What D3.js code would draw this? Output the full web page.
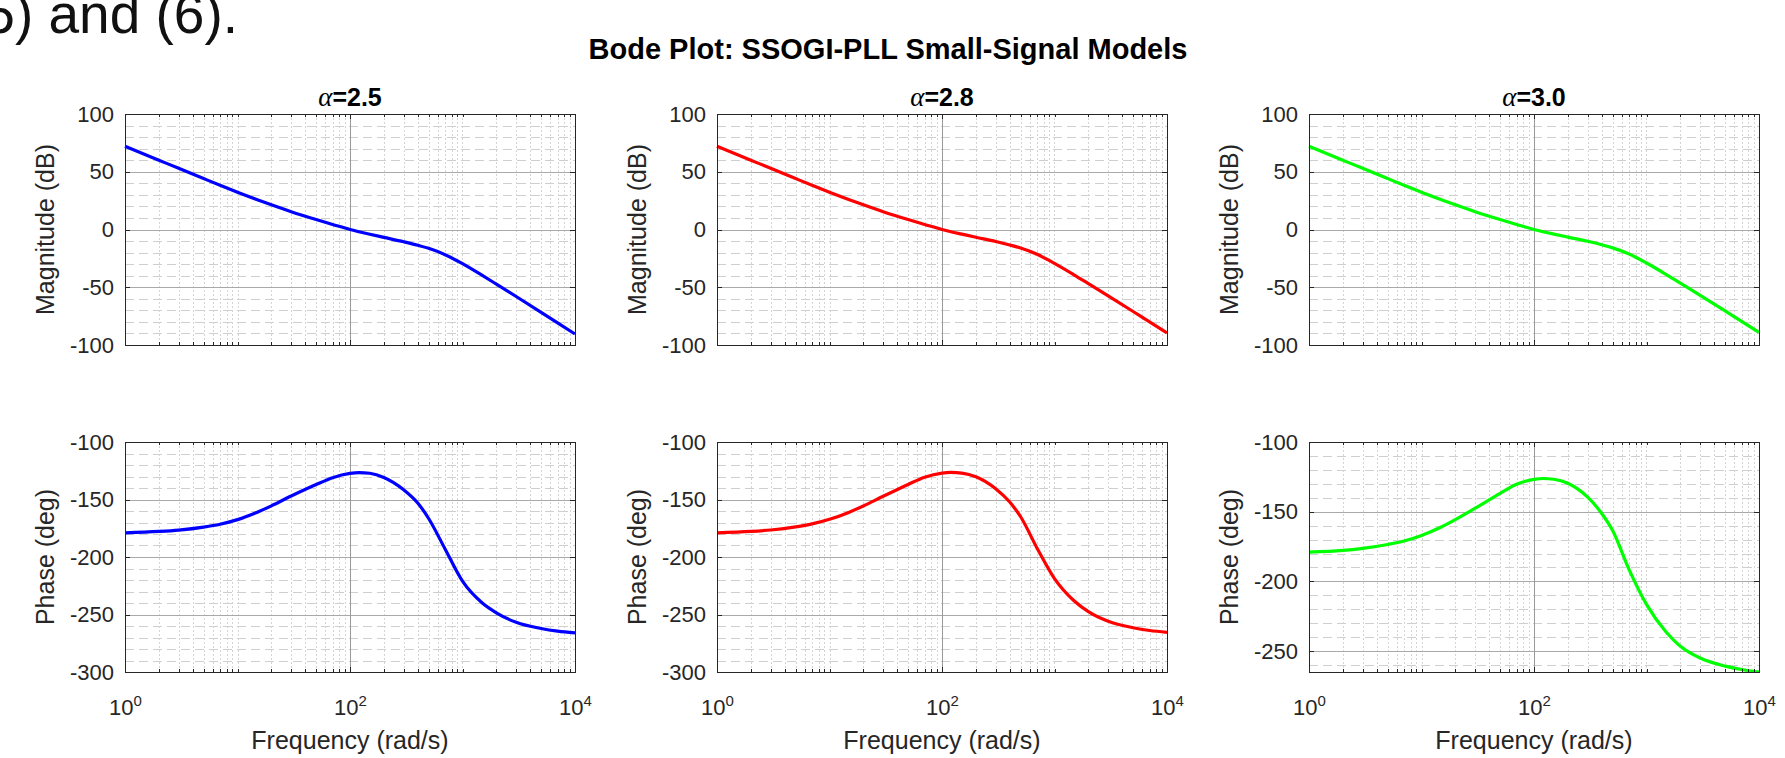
<!DOCTYPE html>
<html>
<head>
    <meta charset="utf-8">
    <script src="https://cdn.jsdelivr.net/npm/d3@7/dist/d3.min.js"></script>
    <style type="text/css">
        body { margin: 0; background: white; }
        svg { display: block; font-family: "Liberation Sans", Arial, Helvetica, sans-serif; }
        .axis path { display: none; }
        .axis line { stroke: #262626; shape-rendering: crispEdges; }
        .axis text { font-size: 22px; fill: #262626; font-family: "Liberation Sans", Arial, sans-serif; }
        .grid-major { stroke: #a9a9a9; stroke-width: 1; shape-rendering: crispEdges; }
        .grid-minor-h { stroke: #cfcfcf; stroke-width: 1; stroke-dasharray: 9,5; shape-rendering: crispEdges; }
        .grid-minor-v { stroke: #d4d4d4; stroke-width: 1; stroke-dasharray: 2,2; shape-rendering: crispEdges; }
        .label { font-size: 25px; fill: #262626; text-anchor: middle; }
    </style>
</head>
<body>
<div id="chart"></div>
<script type="text/javascript">
    var freq = [1, 2, 3, 5, 7, 10, 15, 20, 30, 50, 70, 100, 120, 150, 200, 300, 400, 500, 700, 1000, 1500, 2000, 3000, 5000, 7000, 10000];

    var alphas = ["2.5", "2.8", "3.0"];
    var colors = ["#0000ff", "#ff0000", "#00ff00"];

    // magnitude (dB)
    var mag25 = [72, 60, 53, 44.1, 38.3, 32.3, 25.8, 21.4, 15.4, 8.6, 4.4, 0, -1.9, -4.1, -6.8, -10.6, -13.6, -16.3, -21.8, -29.6, -39.8, -47.3, -58, -71.7, -80.8, -90.5];
    var mag28 = [72, 60, 53, 44.1, 38.3, 32.3, 25.8, 21.4, 15.4, 8.6, 4.4, 0, -1.9, -4.0, -6.7, -10.4, -13.4, -16.1, -21.5, -29.3, -39.4, -46.9, -57.5, -71, -80, -89.5];
    var mag30 = [72, 60, 53, 44.1, 38.3, 32.3, 25.8, 21.4, 15.4, 8.6, 4.4, 0, -1.9, -4.0, -6.6, -10.2, -13.2, -15.9, -21.2, -29, -39, -46.5, -57, -70.5, -79.5, -89];

    // phase (deg)
    var phase25 = [-179, -177.8, -176.6, -174, -171.5, -167.5, -161, -155.5, -147, -137, -131, -127.3, -126.6, -127.2, -130.8, -141.5, -153, -166.5, -193, -221, -240, -248.5, -256.8, -262.2, -264.5, -266];
    var phase28 = [-179, -177.8, -176.5, -173.8, -171.2, -167.2, -161, -155.6, -147.2, -136.9, -130.6, -127, -126.4, -127, -130.2, -140.6, -152.2, -165, -192.3, -218.8, -238.3, -247.5, -255.9, -261.5, -263.9, -265.5];
    var phase30 = [-179, -177.8, -176.3, -173.5, -171, -167, -161, -155.7, -147.5, -136.8, -130.3, -126.8, -126.2, -126.7, -129.6, -139.6, -151.3, -163.5, -191.5, -216.5, -236.5, -246.5, -255, -260.8, -263.2, -265];

    var magTicks = [-100, -50, 0, 50, 100];
    var phaseTicks = [[-300, -250, -200, -150, -100], [-300, -250, -200, -150, -100], [-250, -200, -150, -100]];
    var magLim = [-100, 100];
    var phaseLims = [[-300, -100], [-300, -100], [-265, -100]];
    var freqTicks = [1, 100, 10000];

    var mags = [mag25, mag28, mag30];
    var phases = [phase25, phase28, phase30];

    var W = 1785, H = 758;
    var colX = [125, 717, 1309];
    var pw = 450;
    var rowY = [114, 442];
    var ph = [231, 230];

    var svg = d3.select("#chart").append("svg")
        .attr("width", W)
        .attr("height", H);

    // leftover text from the page the figure was cut out of
    svg.append("text")
        .attr("x", -34)
        .attr("y", 33)
        .style("font-size", "55px")
        .style("fill", "#111")
        .text("(5) and (6).");

    svg.append("text")
        .attr("x", 888)
        .attr("y", 59)
        .attr("text-anchor", "middle")
        .style("font-size", "29px")
        .style("font-weight", "bold")
        .style("fill", "#000")
        .text("Bode Plot: SSOGI-PLL Small-Signal Models");

    var minorFreq = [];
    [1, 10, 100, 1000].forEach(function (d) {
        for (var k = 1; k <= 9; k++) {
            var v = k * d;
            if (freqTicks.indexOf(v) < 0) minorFreq.push(v);
        }
    });

    function drawPanel(id, left, top, h, yDomain, yTicks, ys, color, opts) {
        var x = d3.scaleLog().domain([1, 10000]).range([0, pw]);
        var y = d3.scaleLinear().domain(yDomain).range([h, 0]);

        var g = svg.append("g")
            .attr("transform", "translate(" + left + "," + top + ")");

        // grid
        var minorY = d3.range(Math.ceil(yDomain[0] / 10) * 10, yDomain[1] + 0.1, 10)
            .filter(function (v) { return v % 50 !== 0; });
        g.selectAll(".gmh").data(minorY).enter().append("line")
            .attr("class", "grid-minor-h")
            .attr("x1", 0).attr("x2", pw)
            .attr("y1", function (d) { return Math.round(y(d)) + 0.5; })
            .attr("y2", function (d) { return Math.round(y(d)) + 0.5; });
        g.selectAll(".gmv").data(minorFreq).enter().append("line")
            .attr("class", "grid-minor-v")
            .attr("y1", 0).attr("y2", h)
            .attr("x1", function (d) { return Math.round(x(d)) + 0.5; })
            .attr("x2", function (d) { return Math.round(x(d)) + 0.5; });
        g.selectAll(".gMh").data(yTicks.filter(function (v) { return v > yDomain[0] && v < yDomain[1]; })).enter().append("line")
            .attr("class", "grid-major")
            .attr("x1", 0).attr("x2", pw)
            .attr("y1", function (d) { return Math.round(y(d)) + 0.5; })
            .attr("y2", function (d) { return Math.round(y(d)) + 0.5; });
        g.append("line")
            .attr("class", "grid-major")
            .style("stroke", "#999")
            .attr("y1", 0).attr("y2", h)
            .attr("x1", Math.round(x(100)) + 0.5)
            .attr("x2", Math.round(x(100)) + 0.5);

        // curve
        g.append("clipPath").attr("id", id)
            .append("rect").attr("x", -1).attr("y", 0).attr("width", pw + 2).attr("height", h);
        var line = d3.line()
            .x(function (d, i) { return x(freq[i]); })
            .y(function (d) { return y(d); })
            .curve(d3.curveMonotoneX);
        g.append("path")
            .datum(ys)
            .attr("clip-path", "url(#" + id + ")")
            .attr("fill", "none")
            .attr("stroke", color)
            .attr("stroke-width", 3.2)
            .attr("stroke-linejoin", "round")
            .attr("d", line);

        // ticks
        g.append("g").attr("class", "axis")
            .call(d3.axisLeft(y).tickValues(yTicks).tickSizeInner(-5).tickSizeOuter(0).tickPadding(11)
                .tickFormat(function (d) { return String(d); }));
        g.append("g").attr("class", "axis")
            .attr("transform", "translate(" + pw + ",0)")
            .call(d3.axisRight(y).tickValues(yTicks).tickSizeInner(-5).tickSizeOuter(0).tickFormat(""));
        g.append("g").attr("class", "axis")
            .call(d3.axisTop(x).tickValues(freqTicks).tickSizeInner(-5).tickSizeOuter(0).tickFormat(""));
        g.append("g").attr("class", "axis")
            .call(d3.axisTop(x).tickValues(minorFreq).tickSizeInner(-3).tickSizeOuter(0).tickFormat(""));
        g.append("g").attr("class", "axis")
            .attr("transform", "translate(0," + h + ")")
            .call(d3.axisBottom(x).tickValues(minorFreq).tickSizeInner(-3).tickSizeOuter(0).tickFormat(""));
        var xb = g.append("g").attr("class", "axis")
            .attr("transform", "translate(0," + h + ")")
            .call(d3.axisBottom(x).tickValues(freqTicks).tickSizeInner(-5).tickSizeOuter(0).tickPadding(27)
                .tickFormat(function (d) { return opts.xLabels ? String(Math.round(Math.log10(d))) : ""; }));

        if (opts.xLabels) {
            xb.selectAll(".tick text").each(function () {
                var t = d3.select(this);
                var e = t.text();
                t.text(null);
                t.append("tspan").text("10");
                t.append("tspan").attr("dy", "-0.55em").style("font-size", "15px").text(e);
            });
        }

        // box
        g.append("rect")
            .attr("x", 0.5).attr("y", 0.5)
            .attr("width", pw).attr("height", h)
            .attr("fill", "none")
            .attr("stroke", "#262626")
            .attr("stroke-width", 1)
            .attr("shape-rendering", "crispEdges");

        // y label
        g.append("text")
            .attr("class", "label")
            .attr("transform", "rotate(-90)")
            .attr("x", -h / 2)
            .attr("y", -80)
            .attr("dy", "0.35em")
            .text(opts.yLabel);

        if (opts.title) {
            var tt = g.append("text")
                .attr("x", pw / 2)
                .attr("y", -8)
                .attr("text-anchor", "middle")
                .style("font-size", "25px")
                .style("fill", "#000");
            tt.append("tspan")
                .style("font-family", "'Liberation Serif', 'Times New Roman', serif")
                .style("font-style", "italic")
                .style("font-size", "27px")
                .text("\u03b1");
            tt.append("tspan")
                .style("font-weight", "bold")
                .text("=" + opts.title);
        }

        if (opts.xLabels) {
            g.append("text")
                .attr("class", "label")
                .attr("x", pw / 2)
                .attr("y", h + 77)
                .text("Frequency (rad/s)");
        }
    }

    for (var i = 0; i < 3; i++) {
        drawPanel("clipM" + i, colX[i], rowY[0], ph[0], magLim, magTicks, mags[i], colors[i],
            { yLabel: "Magnitude (dB)", title: alphas[i], xLabels: false });
        drawPanel("clipP" + i, colX[i], rowY[1], ph[1], phaseLims[i], phaseTicks[i], phases[i], colors[i],
            { yLabel: "Phase (deg)", xLabels: true });
    }
</script>
</body>
</html>
